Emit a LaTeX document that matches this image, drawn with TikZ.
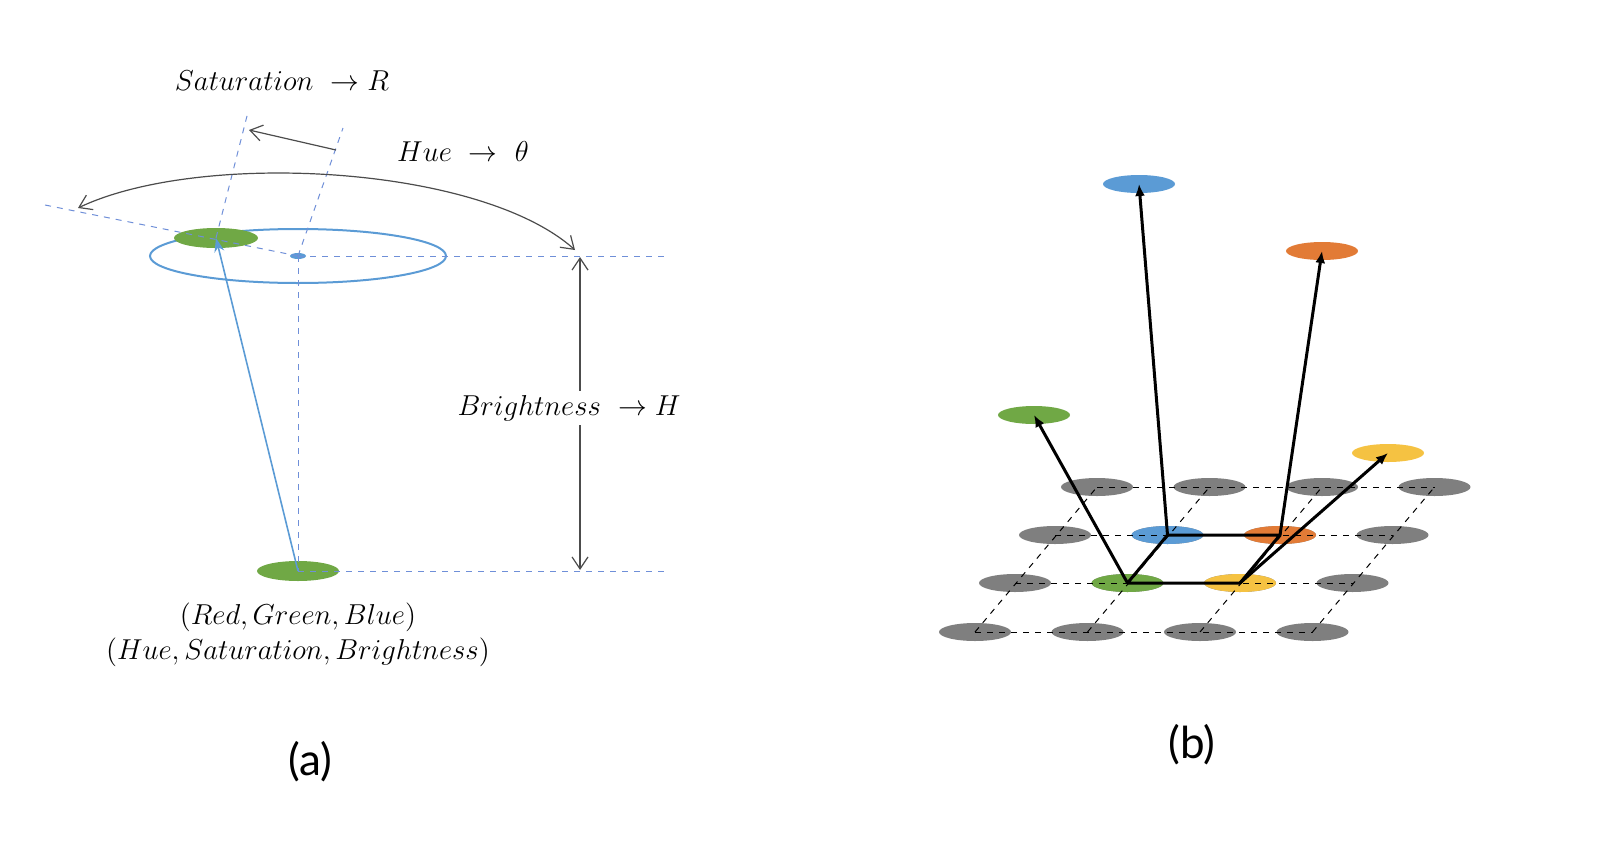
\documentclass[tikz,border=0pt]{standalone}
\usepackage{fontspec}
\newfontfamily\labfont{Lato}
\usetikzlibrary{arrows.meta,shapes.geometric}
\definecolor{cg}{HTML}{70A845}
\definecolor{cb}{HTML}{5B9BD5}
\definecolor{co}{HTML}{E27B36}
\definecolor{cy}{HTML}{F5C242}
\definecolor{cgr}{HTML}{7F7F7F}
\definecolor{dl}{HTML}{6F8FD8}
\begin{document}
\begin{tikzpicture}[x=0.5pt,y=-0.5pt,
 blob/.style={ellipse,minimum width=36pt,minimum height=9pt,inner sep=0,draw=none},
 bdash/.style={dl,dashed,line width=0.5pt},
 kdash/.style={black,dashed,line width=0.5pt},
 thk/.style={black,line width=1.5pt},
 arr/.style={thk,-{Latex[length=6pt,width=5pt]}},
 thin/.style={black!70,line width=0.6pt},
 lab/.style={font=\fontsize{15}{17}\selectfont}]
\useasboundingbox (0,0) rectangle (1600,851);
% ---------- panel (a)
\draw[cb,line width=1pt] (298,256) ellipse [x radius=148,y radius=27];
\node[blob,fill=cb,minimum width=8pt,minimum height=3pt] (c) at (298,256) {};
\node[blob,fill=cg,minimum width=42pt,minimum height=10pt] (g1) at (216,238) {};
\node[blob,fill=cg,minimum width=41pt,minimum height=10pt] (g0) at (298,571) {};
\coordinate (hr) at (665,256);
\coordinate (br) at (668,571);
\coordinate (hl) at (45,205);
\coordinate (s1) at (248,112);
\coordinate (s2) at (343,128);
\draw[bdash] (c.center) -- (hr);
\draw[bdash] (g0.center) -- (br);
\draw[bdash] (c.center) -- (g0.center);
\draw[bdash] (c.center) -- (hl);
\draw[bdash] (g1.center) -- (s1);
\draw[bdash] (c.center) -- (s2);
\draw[cb,line width=0.8pt,-{Stealth[length=7pt,width=5pt]}] (g0.center) -- (g1.center);
\coordinate (sa) at (336,150);
\coordinate (sb) at (249,130);
\draw[thin,-{Straight Barb[length=6pt,width=8pt]}] (sa) -- (sb);
\coordinate (ha) at (575,250);
\coordinate (hb) at (78,208);
\draw[thin,{Straight Barb[length=6pt,width=8pt]}-{Straight Barb[length=6pt,width=8pt]}] (hb) .. controls (200,150) and (480,165) .. (ha);
\coordinate (ba) at (580,257);
\coordinate (bb) at (580,570);
\node[lab,fill=white,inner sep=2pt] (bl) at (569,408) {$Brightness\ \to H$};
\draw[thin,{Straight Barb[length=6pt,width=8pt]}-] (ba) -- (bl.north -| ba);
\draw[thin,-{Straight Barb[length=6pt,width=8pt]}] (bl.south -| bb) -- (bb);
\node[lab] (sl) at (282,81) {$Saturation\ \to R$};
\node[lab] (hl2) at (463,151) {$Hue\ \to\ \theta$};
\node[lab] (t1) at (298,617) {$(Red, Green, Blue)$};
\node[lab] (t2) at (298,652) {$(Hue, Saturation, Brightness)$};
\node[font=\labfont\fontsize{22}{26}\selectfont] (pa) at (310,762) {(a)};
% ---------- panel (b)
\foreach \r/\y/\x in {0/632/975,1/583/1015,2/535/1055,3/487/1097}{
  \foreach \c in {0,1,2,3}{
    \node[blob,fill=cgr] (n\r\c) at ({\x+112.5*\c},\y) {};
  }}
\node[blob,fill=cg] at (n11) {};
\node[blob,fill=cy] at (n12) {};
\node[blob,fill=cb] at (n21) {};
\node[blob,fill=co] at (n22) {};
\foreach \r in {0,1,2,3} \draw[kdash] (n\r0.center) -- (n\r3.center);
\foreach \c in {0,1,2,3} \draw[kdash] (n0\c.center) -- (n3\c.center);
\node[blob,fill=cg] (tg) at (1034,415) {};
\node[blob,fill=cb] (tb) at (1139,184) {};
\node[blob,fill=co] (to) at (1322,251) {};
\node[blob,fill=cy] (ty) at (1388,453) {};
\draw[thk,line join=round] (n11.center) -- (n12.center) -- (n22.center) -- (n21.center) -- cycle;
\draw[arr] (n11.center) -- (tg.center);
\draw[arr] (n21.center) -- (tb.center);
\draw[arr] (n22.center) -- (to.center);
\draw[arr] (n12.center) -- (ty.center);
\node[font=\labfont\fontsize{22}{26}\selectfont] (pb) at (1192,745) {(b)};
\end{tikzpicture}
\end{document}
